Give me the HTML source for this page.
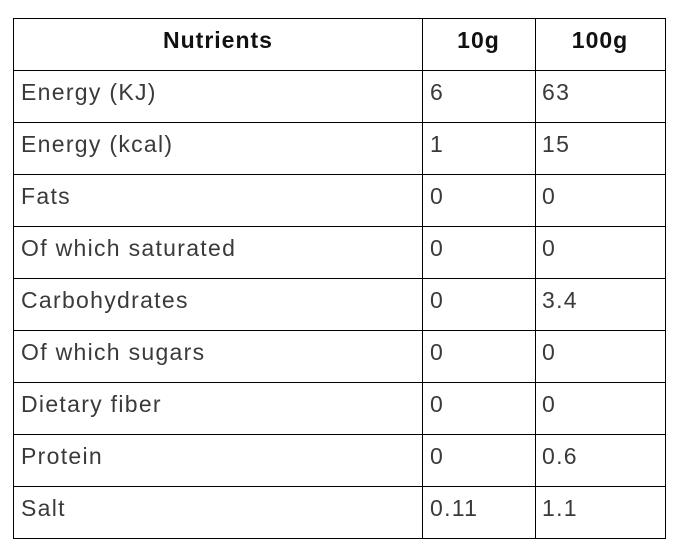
<!DOCTYPE html>
<html><head><style>
body{margin:0;width:684px;height:549px;background:#fff;position:relative;font-family:"Liberation Sans",sans-serif;overflow:hidden}
.h{position:absolute;background:#000;height:1px}
.v{position:absolute;background:#000;width:1px;top:18px;height:521px}
.t{position:absolute;font-size:23px;color:#3a3a3a;line-height:52px;white-space:nowrap;letter-spacing:1.3px}
.b{font-weight:bold;color:#111;text-align:center;letter-spacing:1px}
</style></head><body>
<div class="h" style="left:13px;width:653px;top:18px"></div>
<div class="h" style="left:13px;width:653px;top:70px"></div>
<div class="h" style="left:13px;width:653px;top:122px"></div>
<div class="h" style="left:13px;width:653px;top:174px"></div>
<div class="h" style="left:13px;width:653px;top:226px"></div>
<div class="h" style="left:13px;width:653px;top:278px"></div>
<div class="h" style="left:13px;width:653px;top:330px"></div>
<div class="h" style="left:13px;width:653px;top:382px"></div>
<div class="h" style="left:13px;width:653px;top:434px"></div>
<div class="h" style="left:13px;width:653px;top:486px"></div>
<div class="h" style="left:13px;width:653px;top:538px"></div>
<div class="v" style="left:13px"></div>
<div class="v" style="left:422px"></div>
<div class="v" style="left:535px"></div>
<div class="v" style="left:665px"></div>
<div class="t b" style="left:13px;width:410px;top:14px">Nutrients</div>
<div class="t b" style="left:422px;width:113px;top:14px">10g</div>
<div class="t b" style="left:535px;width:130px;top:14px">100g</div>
<div class="t" style="left:21px;top:66px">Energy (KJ)</div><div class="t" style="left:430px;top:66px">6</div><div class="t" style="left:542px;top:66px">63</div>
<div class="t" style="left:21px;top:118px">Energy (kcal)</div><div class="t" style="left:430px;top:118px">1</div><div class="t" style="left:542px;top:118px">15</div>
<div class="t" style="left:21px;top:170px">Fats</div><div class="t" style="left:430px;top:170px">0</div><div class="t" style="left:542px;top:170px">0</div>
<div class="t" style="left:21px;top:222px">Of which saturated</div><div class="t" style="left:430px;top:222px">0</div><div class="t" style="left:542px;top:222px">0</div>
<div class="t" style="left:21px;top:274px">Carbohydrates</div><div class="t" style="left:430px;top:274px">0</div><div class="t" style="left:542px;top:274px">3.4</div>
<div class="t" style="left:21px;top:326px">Of which sugars</div><div class="t" style="left:430px;top:326px">0</div><div class="t" style="left:542px;top:326px">0</div>
<div class="t" style="left:21px;top:378px">Dietary fiber</div><div class="t" style="left:430px;top:378px">0</div><div class="t" style="left:542px;top:378px">0</div>
<div class="t" style="left:21px;top:430px">Protein</div><div class="t" style="left:430px;top:430px">0</div><div class="t" style="left:542px;top:430px">0.6</div>
<div class="t" style="left:21px;top:482px">Salt</div><div class="t" style="left:430px;top:482px">0.11</div><div class="t" style="left:542px;top:482px">1.1</div>
</body></html>
